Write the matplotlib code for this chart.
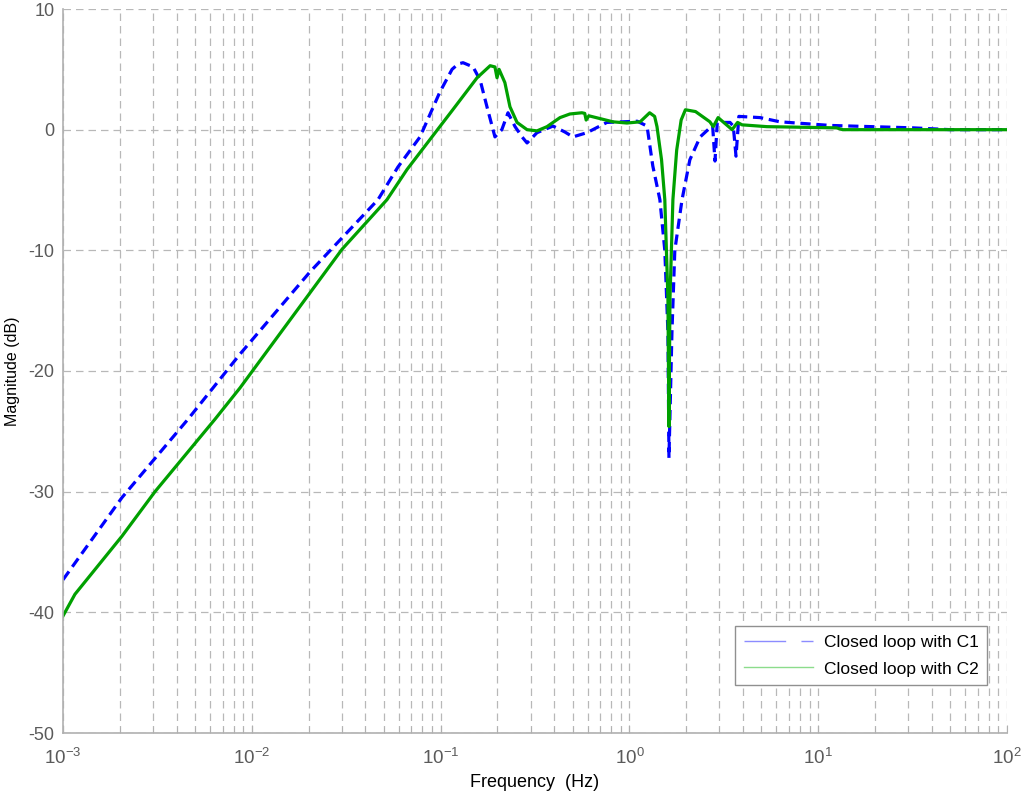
import matplotlib
matplotlib.use("Agg")
import matplotlib.pyplot as plt
import numpy as np
from matplotlib.lines import Line2D
from matplotlib.ticker import LogLocator, FixedLocator

plt.rcParams['font.family'] = ['Liberation Sans', 'DejaVu Sans']
plt.rcParams['mathtext.fontset'] = 'custom'
plt.rcParams['mathtext.rm'] = 'Liberation Sans'
plt.rcParams['mathtext.it'] = 'Liberation Sans'
plt.rcParams['axes.unicode_minus'] = False

# closed loop with C1 (dashed blue)
f_c1 = [1e-3, 2.05e-3, 4.59e-3, 8.66e-3, 0.0203, 0.0466, 0.0594, 0.0778, 0.099,
        0.115, 0.124, 0.1315, 0.1486, 0.162, 0.176, 0.194, 0.211, 0.2275, 0.248, 0.27,
        0.287, 0.324, 0.394, 0.456, 0.502, 0.596, 0.76, 1.10, 1.24, 1.33, 1.45,
        1.54, 1.60, 1.62, 1.68, 1.74, 1.90, 2.09, 2.37, 2.67, 2.76, 2.84, 2.92,
        3.41, 3.55, 3.67, 3.80, 4.92, 6.28, 11.6, 31.8, 50.0, 100.0]
mag_c1 = [-37.3, -30.5, -24.0, -18.6, -11.8, -5.8, -3.1, -0.6, 3.1,
          5.0, 5.45, 5.55, 5.2, 4.1, 1.9, -0.6, 0.0, 1.4, 0.25, -0.6,
          -1.1, -0.25, 0.3, -0.2, -0.6, -0.25, 0.6, 0.7, 0.3, -3.0, -5.8,
          -10.0, -16.8, -27.2, -16.8, -10.0, -5.8, -2.5, -0.6, 0.15, 0.3, -2.6, 0.6,
          0.6, 0.3, -2.2, 1.1, 1.0, 0.65, 0.35, 0.15, 0.0, 0.0]

# closed loop with C2 (solid green)
f_c2 = [1e-3, 1.157e-3, 2.05e-3, 3.07e-3, 6.38e-3, 8.66e-3, 0.0301, 0.052, 0.0664,
        0.088, 0.116, 0.156, 0.183, 0.194, 0.199, 0.204, 0.219, 0.233, 0.254,
        0.287, 0.324, 0.366, 0.429, 0.484, 0.56, 0.58, 0.59, 0.61, 0.818, 0.97,
        1.14, 1.28, 1.36, 1.40, 1.48, 1.54, 1.60, 1.62, 1.64, 1.70, 1.78, 1.88,
        1.98, 2.24, 2.67, 2.78, 2.95, 3.50, 3.74, 3.95, 5.35, 12.5, 13.5, 100.0]
mag_c2 = [-40.3, -38.5, -33.7, -30.0, -24.0, -21.4, -9.9, -5.8, -3.3,
          -0.8, 1.65, 4.3, 5.3, 5.2, 4.3, 5.0, 3.9, 1.9, 0.6,
          0.0, -0.1, 0.25, 1.0, 1.3, 1.4, 1.35, 0.8, 1.15, 0.65, 0.55,
          0.65, 1.4, 1.1, 0.25, -2.5, -5.8, -14.0, -24.6, -14.0, -5.8, -1.7, 0.8,
          1.65, 1.5, 0.65, 0.25, 1.0, 0.0, 0.6, 0.4, 0.25, 0.15, 0.0, 0.0]

labels = ['Closed loop with C1', 'Closed loop with C2']

fig = plt.figure(figsize=(10.24, 7.97), dpi=100)
ax = fig.add_axes([63 / 1024, 1 - 733 / 797, 944 / 1024, 724 / 797])

ax.semilogx(f_c1, mag_c1, color='#0000ff', lw=2.3, dashes=(3.2, 1.8))
ax.semilogx(f_c2, mag_c2, color='#00a000', lw=2.3)

ax.set_xlim(1e-3, 1e2)
ax.set_ylim(-50, 10)
ax.set_yticks(np.arange(-50, 11, 10))
ax.xaxis.set_major_locator(LogLocator(base=10, numticks=10))
ax.xaxis.set_minor_locator(LogLocator(base=10, subs=np.arange(2, 10), numticks=20))
ax.yaxis.set_minor_locator(FixedLocator([]))

ax.grid(True, which='both', axis='x', color='#b8b8b8', ls=(0, (6, 4)), lw=0.9)
ax.grid(True, which='major', axis='y', color='#b8b8b8', ls=(0, (6, 4)), lw=0.9)

for s in ['top', 'right']:
    ax.spines[s].set_visible(False)
for s in ['left', 'bottom']:
    ax.spines[s].set_color('#b0b0b0')
    ax.spines[s].set_linewidth(1.2)

ax.tick_params(which='both', direction='in', colors='#b0b0b0', labelcolor='#5a5a5a',
               labelsize=13)
ax.tick_params(which='major', length=6)
ax.tick_params(which='minor', length=4)
ax.tick_params(axis='x', pad=11, labelsize=13.5)
ax.tick_params(axis='y', length=0, pad=6)

ax.set_xlabel('Frequency  (Hz)', fontsize=13, color='black', labelpad=4)
ax.set_ylabel('Magnitude (dB)', fontsize=11.5, color='black', labelpad=6)

handles = [Line2D([], [], color='#8c8cff', lw=1.0, dashes=(30, 11)),
           Line2D([], [], color='#8cdc8c', lw=1.0)]
leg = ax.legend(handles, labels, loc='lower right', bbox_to_anchor=(0.979, 0.066),
                borderaxespad=0, fontsize=12.5, handlelength=4.0, handletextpad=0.6,
                fancybox=False, framealpha=1, edgecolor='#909090', borderpad=0.5,
                labelspacing=0.65)
leg.get_frame().set_linewidth(1.0)

fig.savefig('out.png', dpi=100)
